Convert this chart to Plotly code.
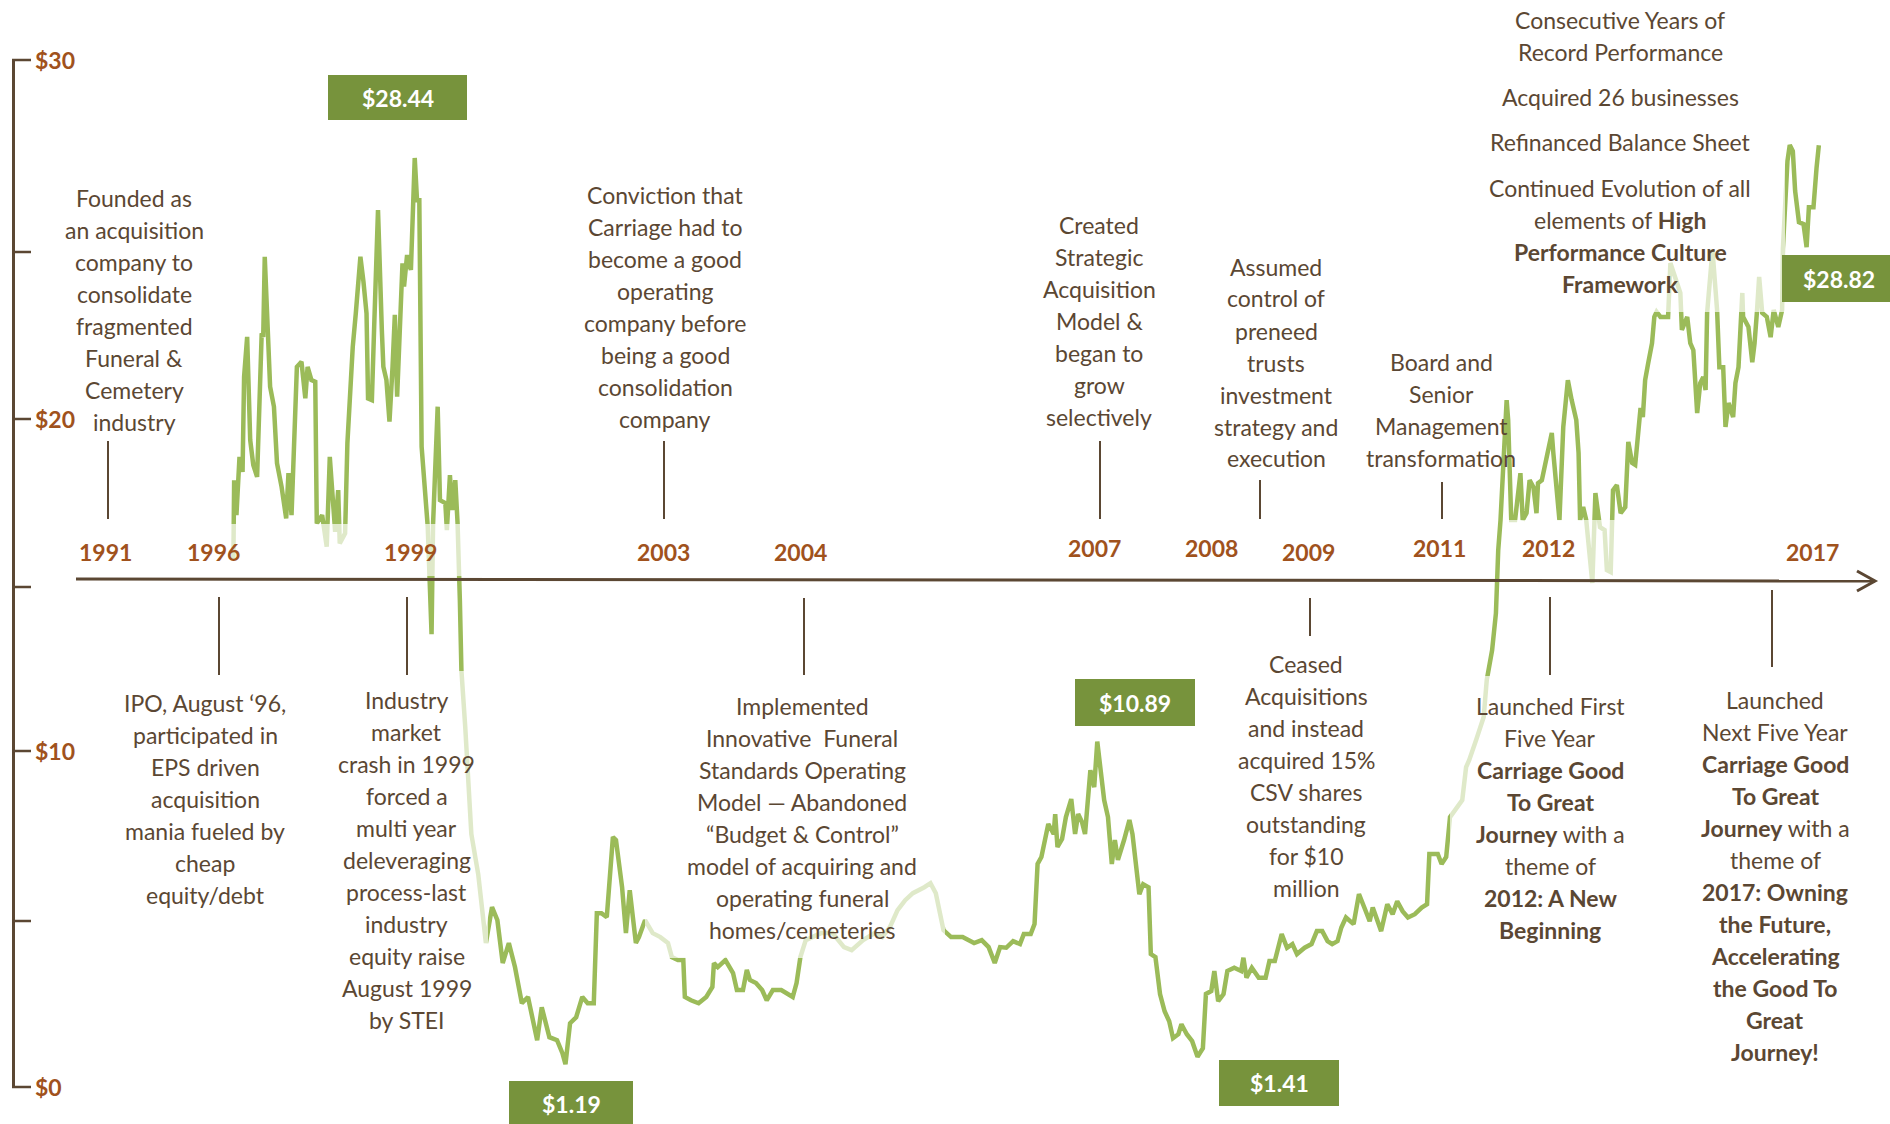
import plotly.graph_objects as go

W, H = 1890, 1124

# share price (year as decimal, price in $)
price_year = [
    1996.59, 1996.60, 1996.63, 1996.67, 1996.71, 1996.73, 1996.77, 1996.81, 1996.85, 1996.90,
    1996.96, 1996.98, 1997.00, 1997.07, 1997.12, 1997.16, 1997.22, 1997.28, 1997.31, 1997.35,
    1997.42, 1997.48, 1997.53, 1997.56, 1997.61, 1997.66, 1997.68, 1997.75, 1997.81, 1997.85,
    1997.92, 1997.96, 1997.98, 1998.05, 1998.08, 1998.15, 1998.19, 1998.25, 1998.29, 1998.33,
    1998.35, 1998.40, 1998.43, 1998.48, 1998.53, 1998.55, 1998.59, 1998.63, 1998.67, 1998.70,
    1998.73, 1998.77, 1998.80, 1998.82, 1998.86, 1998.91, 1998.96, 1998.99, 1999.02, 1999.05,
    1999.13, 1999.18, 1999.20, 1999.26, 1999.29, 1999.36, 1999.38, 1999.42, 1999.45, 1999.49,
    1999.52, 1999.55, 1999.57, 1999.62, 1999.70, 1999.79, 1999.89, 1999.97, 2000.04, 2000.11,
    2000.19, 2000.27, 2000.36, 2000.44, 2000.52, 2000.56, 2000.62, 2000.72, 2000.82, 2000.89,
    2000.93, 2000.99, 2001.07, 2001.15, 2001.22, 2001.30, 2001.34, 2001.40, 2001.47, 2001.55,
    2001.59, 2001.67, 2001.72, 2001.77, 2001.85, 2001.89, 2001.97, 2002.07, 2002.17, 2002.27,
    2002.32, 2002.40, 2002.47, 2002.49, 2002.57, 2002.67, 2002.77, 2002.85, 2002.87, 2002.92,
    2003.02, 2003.12, 2003.17, 2003.25, 2003.30, 2003.34, 2003.42, 2003.50, 2003.56, 2003.64,
    2003.75, 2003.82, 2003.90, 2003.95, 2004.00, 2004.07, 2004.17, 2004.27, 2004.42, 2004.57,
    2004.67, 2004.82, 2004.97, 2005.07, 2005.17, 2005.27, 2005.37, 2005.47, 2005.62, 2005.70,
    2005.77, 2005.87, 2005.97, 2006.12, 2006.27, 2006.37, 2006.46, 2006.54, 2006.61, 2006.69,
    2006.78, 2006.87, 2006.92, 2007.01, 2007.06, 2007.10, 2007.15, 2007.20, 2007.24, 2007.31,
    2007.33, 2007.36, 2007.42, 2007.47, 2007.54, 2007.59, 2007.63, 2007.68, 2007.72, 2007.79,
    2007.84, 2007.88, 2007.93, 2007.97, 2008.02, 2008.07, 2008.11, 2008.15, 2008.23, 2008.30,
    2008.34, 2008.39, 2008.43, 2008.48, 2008.55, 2008.58, 2008.64, 2008.70, 2008.76, 2008.82,
    2008.87, 2008.94, 2008.98, 2009.05, 2009.12, 2009.19, 2009.26, 2009.30, 2009.37, 2009.41,
    2009.46, 2009.53, 2009.58, 2009.67, 2009.76, 2009.79, 2009.83, 2009.90, 2009.99, 2010.08,
    2010.13, 2010.20, 2010.25, 2010.29, 2010.36, 2010.43, 2010.49, 2010.59, 2010.68, 2010.75,
    2010.82, 2010.89, 2010.95, 2011.02, 2011.07, 2011.13, 2011.23, 2011.30, 2011.37, 2011.44,
    2011.48, 2011.53, 2011.59, 2011.67, 2011.74, 2011.80, 2011.87, 2011.94, 2012.03, 2012.12,
    2012.19, 2012.22, 2012.33, 2012.38, 2012.44, 2012.49, 2012.58, 2012.65, 2012.70, 2012.74,
    2012.83, 2012.93, 2012.97, 2013.04, 2013.09, 2013.12, 2013.15, 2013.19, 2013.23, 2013.25,
    2013.29, 2013.34, 2013.41, 2013.44, 2013.49, 2013.53, 2013.58, 2013.62, 2013.64, 2013.69,
    2013.74, 2013.78, 2013.82, 2013.84, 2013.88, 2013.92, 2013.97, 2014.03, 2014.08, 2014.14,
    2014.17, 2014.19, 2014.23, 2014.27, 2014.35, 2014.39, 2014.45, 2014.51, 2014.54, 2014.59,
    2014.62, 2014.67, 2014.72, 2014.78, 2014.82, 2014.87, 2014.91, 2014.95, 2014.98, 2015.01,
    2015.04, 2015.08, 2015.13, 2015.16, 2015.19, 2015.24, 2015.34, 2015.37, 2015.50, 2015.52,
    2015.59, 2015.63, 2015.67, 2015.72, 2015.76, 2015.80, 2015.83, 2015.85, 2015.92, 2015.96,
    2015.98, 2016.01, 2016.06, 2016.09, 2016.13, 2016.19, 2016.22, 2016.26, 2016.31, 2016.32,
    2016.39, 2016.44, 2016.47, 2016.50, 2016.53, 2016.57, 2016.63, 2016.68, 2016.72, 2016.78,
    2016.83, 2016.84, 2016.90, 2016.93, 2016.97, 2017.00, 2017.05, 2017.11, 2017.15, 2017.18,
    2017.24, 2017.28, 2017.31,
]
price = [
    16.35, 18.75, 17.70, 19.45, 19.00, 21.86, 23.06, 19.96, 19.21, 18.85,
    23.17, 23.06, 25.47, 21.56, 20.96, 19.26, 18.55, 17.60, 18.96, 17.70,
    22.16, 22.31, 21.21, 22.16, 21.76, 21.71, 17.45, 17.70, 16.75, 19.45,
    17.20, 18.45, 16.85, 17.15, 19.86, 22.76, 23.77, 25.47, 24.72, 23.77,
    21.21, 21.16, 23.36, 26.87, 23.27, 22.16, 21.76, 20.51, 22.16, 23.72,
    21.26, 23.36, 25.27, 24.57, 25.52, 25.07, 28.44, 27.17, 27.17, 19.76,
    17.35, 14.12, 17.45, 20.96, 18.15, 18.06, 17.25, 18.90, 17.85, 18.75,
    17.45, 15.14, 13.04, 11.33, 8.11, 6.90, 4.83, 5.91, 5.52, 4.23,
    4.83, 4.11, 3.02, 3.21, 2.42, 1.91, 2.90, 2.00, 1.91, 1.52,
    1.19, 2.42, 2.60, 3.21, 3.02, 3.02, 5.73, 5.73, 5.61, 8.02,
    7.93, 6.51, 5.13, 6.42, 4.83, 5.01, 5.52, 5.13, 5.01, 4.83,
    4.41, 4.32, 4.32, 3.21, 3.11, 3.02, 3.21, 3.51, 4.23, 4.11,
    4.32, 3.93, 3.42, 3.42, 4.02, 3.72, 3.63, 3.42, 3.11, 3.42,
    3.42, 3.33, 3.21, 3.63, 4.41, 4.92, 5.01, 5.13, 5.13, 4.71,
    4.62, 4.92, 5.13, 5.01, 5.31, 5.82, 6.12, 6.33, 6.51, 6.63,
    6.33, 5.22, 5.01, 5.01, 4.83, 4.92, 4.71, 4.23, 4.71, 4.69,
    4.89, 4.80, 5.10, 5.10, 5.40, 7.21, 7.42, 8.02, 8.41, 8.11,
    8.71, 7.72, 7.96, 8.62, 9.16, 8.11, 8.71, 8.47, 8.11, 10.03,
    9.52, 10.89, 9.91, 9.13, 8.62, 7.21, 7.93, 7.33, 7.93, 8.53,
    8.11, 7.21, 6.30, 6.60, 6.51, 4.50, 4.41, 3.30, 2.78, 2.48,
    1.97, 2.09, 2.39, 2.09, 1.88, 1.41, 1.67, 3.30, 3.39, 3.99,
    3.08, 3.30, 3.99, 4.09, 3.99, 4.39, 3.79, 4.09, 3.79, 3.79,
    4.29, 4.29, 4.69, 5.10, 4.69, 4.80, 4.50, 4.69, 4.80, 5.19,
    5.19, 4.89, 4.80, 4.89, 5.30, 5.60, 5.40, 6.30, 5.90, 5.49,
    5.90, 5.60, 5.19, 6.00, 5.70, 6.09, 5.79, 5.60, 5.70, 5.90,
    6.00, 7.51, 7.51, 7.21, 7.42, 8.62, 8.92, 9.13, 10.12, 10.33,
    10.93, 11.63, 12.74, 13.64, 14.75, 16.65, 17.55, 19.57, 21.16, 20.56,
    17.55, 17.55, 18.96, 17.55, 17.76, 18.75, 18.54, 17.76, 18.66, 18.75,
    19.27, 19.75, 20.17, 19.57, 18.36, 17.55, 20.35, 21.76, 21.16, 20.56,
    19.57, 17.55, 17.94, 17.55, 15.66, 18.36, 17.34, 17.25, 16.05, 15.99,
    18.45, 18.60, 17.76, 17.94, 19.90, 19.27, 19.21, 20.05, 20.92, 20.65,
    21.76, 22.27, 22.87, 23.66, 23.81, 23.66, 23.66, 25.28, 24.38, 23.27,
    23.66, 22.87, 22.66, 20.77, 21.67, 21.85, 21.46, 23.78, 25.67, 24.47,
    23.87, 22.15, 22.15, 20.35, 21.07, 20.65, 21.67, 22.15, 24.38, 23.66,
    23.36, 22.30, 22.87, 23.78, 24.86, 23.78, 23.66, 23.05, 23.87, 23.36,
    23.87, 25.70, 28.35, 28.83, 28.65, 27.45, 26.51, 26.45, 25.76, 26.96,
    26.96, 28.14, 28.82,
]

year_labels = ["1991", "1996", "1999", "2003", "2004", "2007", "2008", "2009", "2011", "2012", "2017"]
axis_labels = ["$30", "$20", "$10", "$0"]
price_labels = ["$28.44", "$1.19", "$10.89", "$1.41", "$28.82"]

notes = [
    ["Founded as", "an acquisition", "company to", "consolidate", "fragmented", "Funeral &", "Cemetery", "industry"],
    ["Conviction that", "Carriage had to", "become a good", "operating", "company before", "being a good",
     "consolidation", "company"],
    ["Created", "Strategic", "Acquisition", "Model &", "began to", "grow", "selectively"],
    ["Assumed", "control of", "preneed", "trusts", "investment", "strategy and", "execution"],
    ["Board and", "Senior", "Management", "transformation"],
    ["Consecutive Years of", "Record Performance"],
    ["Acquired 26 businesses"],
    ["Refinanced Balance Sheet"],
    ["Continued Evolution of all", "elements of <b>High</b>", "<b>Performance Culture</b>", "<b>Framework</b>"],
    ["IPO, August \u201896,", "participated in", "EPS driven", "acquisition", "mania fueled by", "cheap", "equity/debt"],
    ["Industry", "market", "crash in 1999", "forced a", "multi year", "deleveraging", "process-last", "industry",
     "equity raise", "August 1999", "by STEI"],
    ["Implemented", "Innovative  Funeral", "Standards Operating", "Model \u2014 Abandoned",
     "\u201cBudget & Control\u201d", "model of acquiring and", "operating funeral", "homes/cemeteries"],
    ["Ceased", "Acquisitions", "and instead", "acquired 15%", "CSV shares", "outstanding", "for $10", "million"],
    ["Launched First", "Five Year", "<b>Carriage Good</b>", "<b>To Great</b>", "<b>Journey</b> with a",
     "theme of", "<b>2012: A New</b>", "<b>Beginning</b>"],
    ["Launched", "Next Five Year", "<b>Carriage Good</b>", "<b>To Great</b>", "<b>Journey</b> with a",
     "theme of", "<b>2017: Owning</b>", "<b>the Future,</b>", "<b>Accelerating</b>", "<b>the Good To</b>",
     "<b>Great</b>", "<b>Journey!</b>"],
]

BROWN = "#5b4733"
RUST = "#a0521d"
GREEN = "#9bbb59"
BOX = "#77933c"
FONT = "Lato, 'Open Sans', sans-serif"


def px(x):
    return x / W


def py(y):
    return 1 - y / H


fig = go.Figure()
fig.add_trace(go.Scatter(x=price_year, y=price, mode="lines",
                         line=dict(color=GREEN, width=4.5), hoverinfo="skip"))

shapes = []
# pale text-box fills sitting over the price line
for x0, y0, x1, y1 in [(225, 524, 470, 576), (330, 671, 488, 1040), (645, 690, 945, 958),
                       (1450, 676, 1650, 940), (1505, 520, 1620, 585), (1470, 0, 1785, 312)]:
    shapes.append(dict(type="rect", xref="paper", yref="paper", x0=px(x0), x1=px(x1),
                       y0=py(y1), y1=py(y0), fillcolor="rgba(255,255,255,0.68)",
                       line=dict(width=0), layer="above"))

# timeline arrow
shapes.append(dict(type="line", xref="paper", yref="paper", x0=px(76), y0=py(579), x1=px(1875), y1=py(581),
                   line=dict(color=BROWN, width=3), layer="above"))
shapes.append(dict(type="path", xref="paper", yref="paper",
                   path=f"M {px(1857)} {py(571)} L {px(1875)} {py(581)} L {px(1857)} {py(591)}",
                   line=dict(color=BROWN, width=3), layer="above"))

# left decorative axis
shapes.append(dict(type="line", xref="paper", yref="paper", x0=px(13.5), x1=px(13.5), y0=py(1087), y1=py(60),
                   line=dict(color=BROWN, width=3)))
for ty in [60, 252, 419, 587, 751, 921, 1087]:
    shapes.append(dict(type="line", xref="paper", yref="paper", x0=px(12), x1=px(31), y0=py(ty), y1=py(ty),
                       line=dict(color=BROWN, width=2.5)))

# callout ticks
for x, y0, y1 in [(108, 441, 519), (664, 441, 519), (1100, 441, 519), (1260, 480, 519), (1442, 482, 519),
                  (219, 597, 675), (407, 597, 675), (804, 598, 675), (1310, 598, 636), (1550, 597, 675),
                  (1772, 590, 667)]:
    shapes.append(dict(type="line", xref="paper", yref="paper", x0=px(x), x1=px(x), y0=py(y1), y1=py(y0),
                       line=dict(color=BROWN, width=2)))

# value boxes
box_pos = [(328, 75, 467, 120), (509, 1081, 633, 1130), (1075, 679, 1195, 726), (1219, 1060, 1339, 1106),
           (1782, 255, 1890, 302)]
for x0, y0, x1, y1 in box_pos:
    shapes.append(dict(type="rect", xref="paper", yref="paper", x0=px(x0), x1=px(x1), y0=py(y1), y1=py(y0),
                       fillcolor=BOX, line=dict(width=0), layer="above"))


def label(x, y, text, size=23, color=BROWN, xanchor="center"):
    return dict(x=px(x), y=py(y), xref="paper", yref="paper", text=text, showarrow=False,
                font=dict(family=FONT, size=size, color=color), xanchor=xanchor, yanchor="middle")


ann = []
for lab, (x0, y0, x1, y1) in zip(price_labels, box_pos):
    cy = (y0 + y1) / 2 if y1 < 1124 else 1104
    cx = (x0 + x1) / 2 + (3 if lab == "$28.82" else 0)
    ann.append(label(cx, cy, f"<b>{lab}</b>", color="white"))

for lab, ty in zip(axis_labels, [60, 419, 751, 1087]):
    ann.append(label(33, ty, f"<b>{lab}</b>", color=RUST, xanchor="left"))

year_pos = [(105, 552), (213, 552), (410, 552), (663, 552), (800, 552), (1094, 548), (1211, 548),
            (1308, 552), (1439, 548), (1548, 548), (1812, 552)]
for lab, (x, y) in zip(year_labels, year_pos):
    ann.append(label(x, y, f"<b>{lab}</b>", color=RUST))

note_pos = [(134, 198), (665, 195), (1099, 225), (1276, 266.5), (1441, 362), (1620, 20), (1620, 97),
            (1620, 141.5), (1620, 188), (205, 703), (406.5, 700), (802, 706), (1306, 663.5), (1550, 705.5),
            (1775, 700)]
for lines, (x, y) in zip(notes, note_pos):
    for i, line in enumerate(lines):
        ann.append(label(x, y + i * 32, line))

fig.update_layout(
    width=W, height=H, margin=dict(l=0, r=0, t=0, b=0),
    paper_bgcolor="white", plot_bgcolor="white", showlegend=False,
    xaxis=dict(range=[1993.54, 2018.24], visible=False, fixedrange=True),
    yaxis=dict(range=[-0.61, 33.19], visible=False, fixedrange=True),
    shapes=shapes, annotations=ann,
)
# drop the browser's default page margin so the figure sits at the window corner
fig.write_html("out.html", config={"displayModeBar": False},
               post_script="document.body.style.margin='0';document.body.style.overflow='hidden';")
